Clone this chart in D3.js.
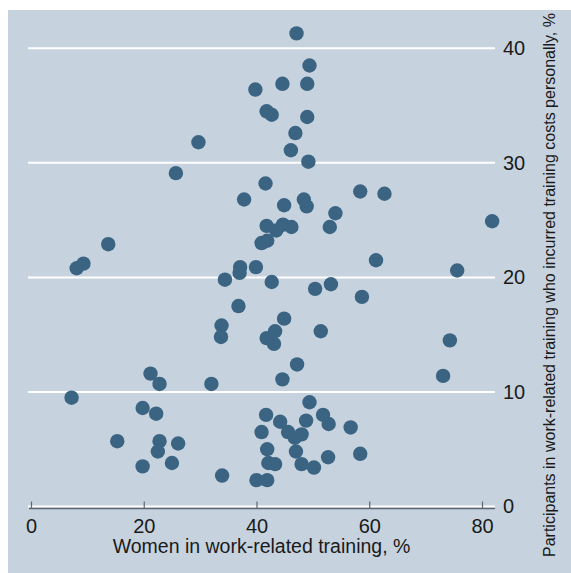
<!DOCTYPE html>
<html>
<head>
<meta charset="utf-8">
<script src="https://cdn.jsdelivr.net/npm/d3@7"></script>
<style>
  html, body { margin: 0; padding: 0; background: #fff; }
  svg { display: block; font-family: "Liberation Sans", Arial, sans-serif; }
</style>
</head>
<body>
<svg id="chart" width="571" height="573"></svg>
<script>
// Women in work-related training, % (x) vs participants who paid costs themselves, % (y)
const womenShare = [
  47.1, 49.4, 44.6, 49.0, 39.8, 41.8, 42.7, 49.0, 46.9, 29.7,
  46.1, 49.2, 25.7, 41.6, 37.8, 58.4, 62.7, 48.4, 48.9, 44.9,
  54.0, 53.0, 41.8, 43.5, 44.7, 46.2, 81.8, 40.9, 41.9, 13.7,
  8.1, 9.3, 37.1, 37.0, 39.9, 61.2, 75.6, 34.4, 42.7, 50.4,
  53.2, 58.7, 36.8, 44.9, 33.8, 33.7, 43.3, 41.8, 43.1, 51.4,
  74.3, 47.2, 21.2, 22.8, 32.0, 44.6, 73.1, 7.2, 49.4, 19.8,
  22.2, 41.7, 44.2, 51.8, 52.8, 48.8, 56.7, 40.9, 45.6, 48.0,
  46.8, 15.3, 22.8, 22.5, 26.1, 41.9, 47.0, 58.4, 52.7, 19.8,
  25.0, 42.1, 43.3, 48.0, 50.2, 33.9, 40.0, 41.9
];
const paidPersonally = [
  41.3, 38.5, 36.9, 36.9, 36.4, 34.5, 34.2, 34.0, 32.6, 31.8,
  31.1, 30.1, 29.1, 28.2, 26.8, 27.5, 27.3, 26.8, 26.2, 26.3,
  25.6, 24.4, 24.5, 24.1, 24.6, 24.4, 24.9, 23.0, 23.2, 22.9,
  20.8, 21.2, 20.9, 20.4, 20.9, 21.5, 20.6, 19.8, 19.6, 19.0,
  19.4, 18.3, 17.5, 16.4, 15.8, 14.8, 15.3, 14.7, 14.2, 15.3,
  14.5, 12.4, 11.6, 10.7, 10.7, 11.1, 11.4, 9.5, 9.1, 8.6,
  8.1, 8.0, 7.4, 8.0, 7.2, 7.5, 6.9, 6.5, 6.5, 6.3,
  6.0, 5.7, 5.7, 4.8, 5.5, 5.0, 4.8, 4.6, 4.3, 3.5,
  3.8, 3.8, 3.7, 3.7, 3.4, 2.7, 2.3, 2.3
];
const xTicks = [0, 20, 40, 60, 80];
const yTicks = [0, 10, 20, 30, 40];
const xTitle = "Women in work-related training, %";
const yTitle = "Participants in work-related training who incurred training costs personally, %";

const points = womenShare.map((w, i) => ({ x: w, y: paidPersonally[i] }));

const svg = d3.select("#chart");
const W = +svg.attr("width");
const H = +svg.attr("height");

// plot region (grid lines span this), scale ranges sit slightly inside it
const region = { left: 28, right: 495, top: 10 };
const x = d3.scaleLinear().domain([0, 80]).range([31, 482]);
const y = d3.scaleLinear().domain([0, 40]).range([506.5, 48.3]);

// graph background
svg.append("rect")
  .attr("x", 8).attr("y", region.top)
  .attr("width", W - 8).attr("height", H - region.top)
  .attr("fill", "#c6d3df");

// horizontal grid lines
svg.append("g")
  .selectAll("line")
  .data(yTicks)
  .join("line")
  .attr("x1", region.left).attr("x2", region.right)
  .attr("y1", d => y(d)).attr("y2", d => y(d))
  .attr("stroke", "#ffffff")
  .attr("stroke-width", 2);

// y axis on the right, labels only
const yAxis = svg.append("g")
  .attr("transform", `translate(${region.right},0)`)
  .call(d3.axisRight(y).tickValues(yTicks).tickSize(0).tickPadding(8));
yAxis.select(".domain").remove();
yAxis.selectAll("text")
  .attr("font-size", 20)
  .attr("fill", "#1a1a1a")
  .attr("font-family", "Liberation Sans, Arial, sans-serif");

// x axis, ticks pointing up
const axisY = y(0) + 2;
svg.append("line")
  .attr("x1", region.left + 1).attr("x2", region.right)
  .attr("y1", axisY).attr("y2", axisY)
  .attr("stroke", "#5b6670")
  .attr("stroke-width", 1.5);
const xAxis = svg.append("g")
  .attr("transform", `translate(0,${axisY})`)
  .call(d3.axisBottom(x).tickValues(xTicks).tickSizeInner(-7).tickSizeOuter(0).tickPadding(10));
xAxis.select(".domain").remove();
xAxis.selectAll(".tick line").attr("stroke", "#5b6670").attr("stroke-width", 1.2);
xAxis.selectAll("text")
  .attr("y", 10)
  .attr("font-size", 20)
  .attr("fill", "#1a1a1a")
  .attr("font-family", "Liberation Sans, Arial, sans-serif");

// axis titles
svg.append("text")
  .attr("x", (region.left + region.right) / 2)
  .attr("y", 553)
  .attr("text-anchor", "middle")
  .attr("font-size", 19.5)
  .attr("fill", "#1a1a1a")
  .text(xTitle);

svg.append("text")
  .attr("transform", `translate(555,285) rotate(-90)`)
  .attr("text-anchor", "middle")
  .attr("font-size", 16)
  .attr("fill", "#1a1a1a")
  .text(yTitle);

// markers
svg.append("g")
  .selectAll("circle")
  .data(points)
  .join("circle")
  .attr("cx", d => x(d.x))
  .attr("cy", d => y(d.y))
  .attr("r", 7.2)
  .attr("fill", "#3b6483");
</script>
</body>
</html>
